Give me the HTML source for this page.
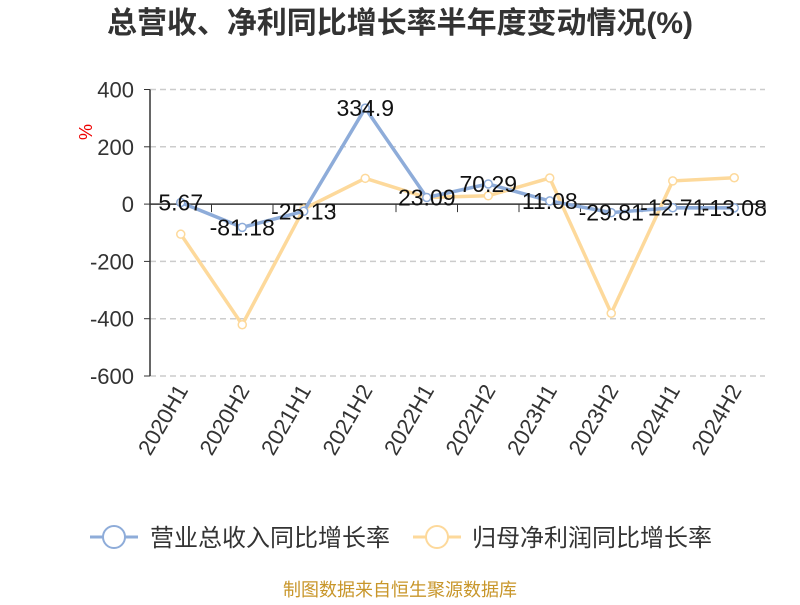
<!DOCTYPE html>
<html><head><meta charset="utf-8"><style>
body{margin:0;background:#fff;font-family:"Liberation Sans","Noto Sans CJK SC",sans-serif}
</style></head><body>
<svg id="chart" width="800" height="600" xmlns="http://www.w3.org/2000/svg" font-family="Liberation Sans, Noto Sans CJK SC, sans-serif">
<text x="400" y="33" text-anchor="middle" font-size="30" font-weight="bold" fill="#333" textLength="586" lengthAdjust="spacingAndGlyphs">总营收、净利同比增长率半年度变动情况(%)</text>
<text transform="translate(92,132) rotate(-90)" text-anchor="middle" font-size="18" fill="#e00">%</text>
<g id="grid"></g><g id="axes"></g><g id="series"></g>
<g>
<g><line x1="90" y1="537" x2="138" y2="537" stroke="#8eacd9" stroke-width="3"/><circle cx="114" cy="537" r="11" fill="#fff" stroke="#8eacd9" stroke-width="2"/><text x="150" y="546" font-size="24" fill="#333" textLength="240" lengthAdjust="spacingAndGlyphs">营业总收入同比增长率</text></g>
<g><line x1="413" y1="537" x2="461" y2="537" stroke="#fdd99b" stroke-width="3"/><circle cx="437" cy="537" r="11" fill="#fff" stroke="#fdd99b" stroke-width="2"/><text x="472" y="546" font-size="24" fill="#333" textLength="240" lengthAdjust="spacingAndGlyphs">归母净利润同比增长率</text></g>
</g>
<text x="400" y="596" text-anchor="middle" font-size="18" fill="#c8962a" textLength="234" lengthAdjust="spacingAndGlyphs">制图数据来自恒生聚源数据库</text>
</svg>
<script>
const categories=["2020H1","2020H2","2021H1","2021H2","2022H1","2022H2","2023H1","2023H2","2024H1","2024H2"];
const revenueGrowth=[5.67,-81.18,-25.13,334.9,23.09,70.29,11.08,-29.81,-12.71,-13.08];
const profitGrowth=[-105,-421,-17,90,23,29,91,-381,81,92];
const yTicks=[400,200,0,-200,-400,-600];
const NS="http://www.w3.org/2000/svg";
const x0=150,x1=765,yTop=89.5,yBot=376;
const bw=(x1-x0)/categories.length;
const X=i=>x0+bw*(i+0.5);
const Y=v=>yTop+(400-v)/1000*(yBot-yTop);
function mk(t,a,p){const e=document.createElementNS(NS,t);for(const k in a)e.setAttribute(k,a[k]);p.appendChild(e);return e;}
const grid=document.getElementById('grid'),axes=document.getElementById('axes'),ser=document.getElementById('series');
yTicks.forEach(v=>{
 if(v!==0){const l=mk('line',{x1:x0,x2:x1,y1:Y(v),y2:Y(v),stroke:'#ccc','stroke-dasharray':'6,4','stroke-width':1.5},grid);
 
 }
 const tk=mk('line',{x1:x0-6,x2:x0,y1:Y(v),y2:Y(v),stroke:'#333'},axes);
 
 
 const t=mk('text',{x:x0-16,y:Y(v)+8,'text-anchor':'end','font-size':22,fill:'#333'},axes);
 t.textContent=v;
 
 
});
const ya=mk('line',{x1:x0,x2:x0,y1:yTop,y2:yBot,stroke:'#333','stroke-width':1.5},axes);


const xa=mk('line',{x1:x0,x2:x1,y1:Y(0),y2:Y(0),stroke:'#333','stroke-width':1.5},axes);


categories.forEach((c,i)=>{
 const tk=mk('line',{x1:x0+bw*(i+1),x2:x0+bw*(i+1),y1:Y(0),y2:Y(0)+8,stroke:'#333'},axes);
 
 
 const t=mk('text',{transform:`translate(${X(i)+8},${yBot+14}) rotate(-60)`,'text-anchor':'end','font-size':22,fill:'#333'},axes);
 t.textContent=c;
 
 
});
function series(vals,color,name){
 const p=mk('polyline',{points:vals.map((v,i)=>X(i)+','+Y(v)).join(' '),fill:'none',stroke:color,'stroke-width':3.5},ser);
 
 
 vals.forEach((v,i)=>{
  const c=mk('circle',{cx:X(i),cy:Y(v),r:4,fill:'#fff',stroke:color,'stroke-width':1.5},ser);
  
  
 });
}
series(profitGrowth,'#fdd99b','profit-growth');
series(revenueGrowth,'#8eacd9','revenue-growth');
revenueGrowth.forEach((v,i)=>{
 const t=mk('text',{x:X(i),y:Y(v)+8,'text-anchor':'middle','font-size':23,fill:'#111'},ser);
 t.textContent=v;
 
 
});
</script>
</body></html>
